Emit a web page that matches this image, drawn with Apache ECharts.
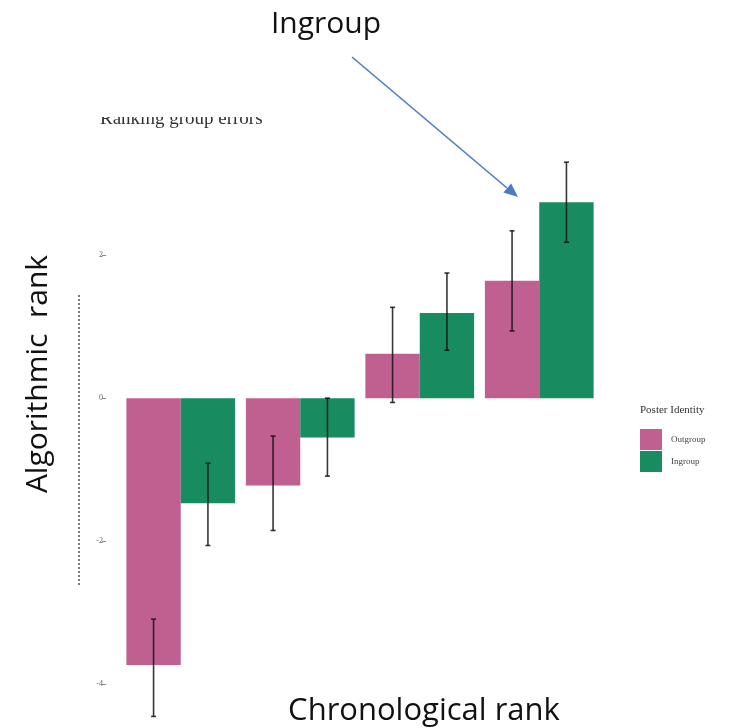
<!DOCTYPE html>
<html>
<head>
<meta charset="utf-8">
<script src="https://cdn.jsdelivr.net/npm/echarts@6/dist/echarts.min.js"></script>
<style>html,body{margin:0;padding:0;background:#fff;}#c{width:732px;height:728px;}</style>
</head>
<body>
<div id="c"></div>
<script>
const categories = ['1', '2', '3', '4'];
const outgroupValues = [-3.73, -1.22, 0.62, 1.64];
const ingroupValues = [-1.47, -0.55, 1.19, 2.74];
const outgroupLow = [-4.45, -1.85, -0.06, 0.94];
const outgroupHigh = [-3.09, -0.53, 1.27, 2.34];
const ingroupLow = [-2.06, -1.09, 0.67, 2.18];
const ingroupHigh = [-0.91, 0.0, 1.75, 3.30];
const yTicks = [-4, -2, 0, 2];
const seriesNames = ['Outgroup', 'Ingroup'];

const PINK = '#C06091';
const GREEN = '#188C60';
const CAT_GAP = 0.09;

function errData(low, high) {
  return categories.map((c, i) => [i, low[i], high[i]]);
}
function makeErr(low, high, side) {
  return {
    type: 'custom',
    silent: true,
    z: 5,
    data: errData(low, high),
    renderItem: function (params, api) {
      const i = api.value(0);
      const band = api.size([1, 0])[0];
      const barW = band * (1 - CAT_GAP) / 2;
      const top = api.coord([i, api.value(2)]);
      const bot = api.coord([i, api.value(1)]);
      const x = top[0] + side * barW / 2;
      const cap = 2.5;
      const st = { stroke: 'rgba(20,20,20,0.85)', lineWidth: 1.6 };
      return {
        type: 'group',
        children: [
          { type: 'line', shape: { x1: x, y1: top[1], x2: x, y2: bot[1] }, style: st },
          { type: 'line', shape: { x1: x - cap, y1: top[1], x2: x + cap, y2: top[1] }, style: st },
          { type: 'line', shape: { x1: x - cap, y1: bot[1], x2: x + cap, y2: bot[1] }, style: st }
        ]
      };
    }
  };
}

const chart = echarts.init(document.getElementById('c'), null, { renderer: 'canvas' });
chart.setOption({
  backgroundColor: '#fff',
  animation: false,
  grid: { left: 121, right: 133, top: 155, bottom: 8, containLabel: false },
  legend: {
    orient: 'vertical',
    left: 640,
    top: 429,
    padding: 0,
    itemWidth: 22,
    itemHeight: 21,
    itemGap: 1,
    icon: 'rect',
    data: seriesNames,
    textStyle: { fontFamily: 'Liberation Serif', fontSize: 9, color: '#444', padding: [0, 0, 0, 4] }
  },
  xAxis: {
    type: 'category',
    data: categories,
    axisLine: { show: false },
    axisTick: { show: false },
    axisLabel: { show: false },
    splitLine: { show: false }
  },
  yAxis: {
    type: 'value',
    min: -4.5,
    max: 3.4,
    offset: 15,
    axisLine: { show: false },
    axisTick: { show: true, length: 4, customValues: yTicks, lineStyle: { color: '#888', width: 1 } },
    axisLabel: {
      customValues: yTicks,
      margin: 3,
      fontFamily: 'Liberation Serif',
      fontSize: 8,
      color: '#666',
      formatter: v => String(v)
    },
    splitLine: { show: false }
  },
  series: [
    {
      name: seriesNames[0], type: 'bar', data: outgroupValues,
      barGap: '0%', barCategoryGap: (CAT_GAP * 100) + '%',
      itemStyle: { color: PINK }
    },
    {
      name: seriesNames[1], type: 'bar', data: ingroupValues,
      barGap: '0%', barCategoryGap: (CAT_GAP * 100) + '%',
      itemStyle: { color: GREEN }
    },
    makeErr(outgroupLow, outgroupHigh, -1),
    makeErr(ingroupLow, ingroupHigh, 1)
  ],
  graphic: [
    { type: 'text', x: 100, y: 110, z: 10,
      style: { text: 'Ranking group errors', fontFamily: 'Liberation Serif', fontSize: 19, fill: '#333' } },
    { type: 'rect', shape: { x: 90, y: 90, width: 200, height: 27 }, z: 11, style: { fill: '#fff' } },
    { type: 'line', shape: { x1: 79, y1: 295, x2: 79, y2: 585 }, z: 10,
      style: { stroke: '#333', lineWidth: 1.3, lineDash: [2, 2] } },
    { type: 'text', x: 326, y: 24, z: 10,
      style: { text: 'Ingroup', fontFamily: 'Open Sans', fontSize: 30, fill: '#111', align: 'center', verticalAlign: 'middle' } },
    { type: 'text', x: 424, y: 711, z: 10,
      style: { text: 'Chronological rank', fontFamily: 'Open Sans', fontSize: 31, fill: '#111', align: 'center', verticalAlign: 'middle' } },
    { type: 'text', x: 38, y: 374, rotation: Math.PI / 2, z: 10,
      style: { text: 'Algorithmic  rank', fontFamily: 'Open Sans', fontSize: 30, fill: '#111', align: 'center', verticalAlign: 'middle' } },
    { type: 'text', x: 640, y: 405, z: 10,
      style: { text: 'Poster Identity', fontFamily: 'Liberation Serif', fontSize: 11, fill: '#333' } },
    { type: 'line', shape: { x1: 352, y1: 57, x2: 507, y2: 188 }, z: 10,
      style: { stroke: '#4A7CC2', lineWidth: 1.6 } },
    { type: 'polygon', shape: { points: [[518, 197], [503.4, 192.6], [511.2, 183.4]] }, z: 10,
      style: { fill: '#4A7CC2' } }
  ]
});
</script>
</body>
</html>
